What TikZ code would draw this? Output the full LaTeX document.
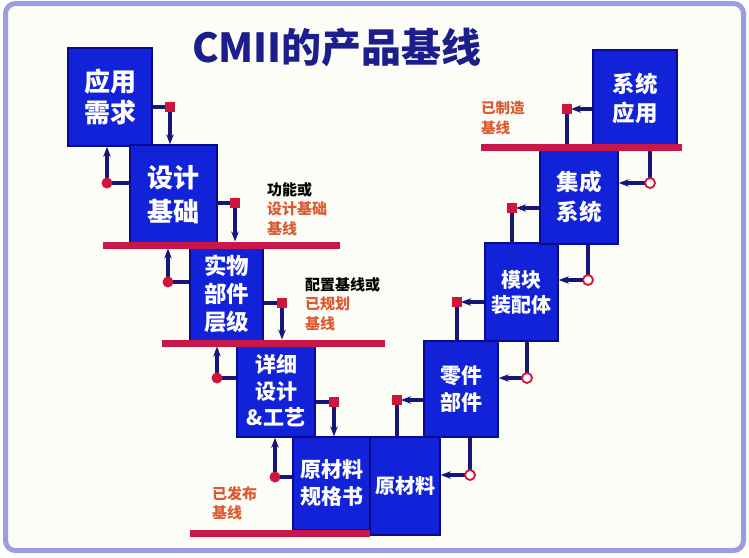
\documentclass[tikz,border=0pt]{standalone}
\usepackage{fontspec}
\newfontfamily\cjk{Noto Sans CJK SC}
\usetikzlibrary{arrows.meta}
\definecolor{boxblue}{HTML}{1222D8}
\definecolor{boxedge}{HTML}{0A0A8A}
\definecolor{conncol}{HTML}{16167A}
\definecolor{basered}{HTML}{C8184A}
\definecolor{framecol}{HTML}{9C9CE4}
\definecolor{bgcol}{HTML}{FDFDF8}
\definecolor{lblorange}{HTML}{DC5A32}
\definecolor{titlecol}{HTML}{1C1E8C}
\definecolor{markred}{HTML}{D0143C}
\newcommand{\bxf}[2]{\cjk\bfseries\fontsize{#1}{#2}\selectfont}
\begin{document}
\begin{tikzpicture}[x=1pt,y=-1pt,
 box/.style={draw=boxedge, line width=1.5pt, fill=boxblue, text=white, inner sep=0pt, align=center},
 conn/.style={draw=conncol, line width=3.6pt},
 arr/.style={conn, -{Stealth[length=10pt,width=7.5pt]}},
 sqm/.style={fill=markred, minimum size=10pt, inner sep=0pt, rectangle},
 fcm/.style={circle, fill=markred, minimum size=11pt, inner sep=0pt},
 ocm/.style={circle, draw=markred, fill=white, line width=1.8pt, minimum size=10pt, inner sep=0pt},
 bline/.style={draw=basered, line width=7pt},
 lbl/.style={font=\cjk\bfseries\fontsize{15}{19.5}\selectfont, align=left, anchor=west, inner sep=0pt},
]
\useasboundingbox (0,0) rectangle (749,557);
\draw[framecol, line width=5pt, fill=bgcol, rounded corners=10pt] (5.5,3.5) rectangle (743.5,550.5);

\node[font=\cjk\bfseries\fontsize{40}{44}\selectfont, text=titlecol] (title) at (337,47) {CMII的产品基线};

% boxes
\node[box, minimum width=84pt, minimum height=98pt, font=\bxf{26}{31}] (yyxq) at (110,97) {应用\\需求};
\node[box, minimum width=87pt, minimum height=100pt, font=\bxf{26}{34}] (sjjc) at (173.5,195) {设计\\基础};
\node[box, minimum width=73pt, minimum height=97pt, font=\bxf{22.5}{28}] (swbj) at (226.5,293.5) {实物\\部件\\层级};
\node[box, minimum width=78pt, minimum height=92pt, font=\bxf{21}{26.5}] (xxsj) at (276,391) {详细\\设计\\\&工艺};
\node[box, minimum width=77pt, minimum height=93pt, font=\bxf{21}{27}] (yclg) at (331.5,483.5) {原材料\\规格书};
\node[box, minimum width=70pt, minimum height=98pt, font=\bxf{20}{26}] (ycl) at (405,486) {原材料};
\node[box, minimum width=74pt, minimum height=96pt, font=\bxf{21}{27}] (ljbj) at (461,389) {零件\\部件};
\node[box, minimum width=73pt, minimum height=98pt, font=\bxf{20}{25}] (mkzp) at (521.5,292) {模块\\装配体};
\node[box, minimum width=78pt, minimum height=94pt, font=\bxf{22.5}{30}] (jcxt) at (579,197) {集成\\系统};
\node[box, minimum width=84pt, minimum height=97pt, font=\bxf{22.5}{29}] (xtyy) at (635,98.5) {系统\\应用};

% baselines
\coordinate (l0a) at (481,147); \coordinate (l0b) at (682,147);
\coordinate (l1a) at (103,245); \coordinate (l1b) at (340,245);
\coordinate (l2a) at (162,343); \coordinate (l2b) at (385,343);
\coordinate (l3a) at (190,533); \coordinate (l3b) at (370,533);
\draw[bline] (l0a) -- (l0b);
\draw[bline] (l1a) -- (l1b);
\draw[bline] (l2a) -- (l2b);
\draw[bline] (l3a) -- (l3b);

% left side connectors
\coordinate (p1) at (170,107);
\draw[conn] (yyxq.east |- p1) -- (p1);
\draw[arr] (p1) -- (p1 |- sjjc.north);
\coordinate (p2) at (107,183);
\draw[conn] (sjjc.west |- p2) -- (p2);
\draw[arr] (p2) -- (p2 |- yyxq.south);
\coordinate (p3) at (235,203);
\draw[conn] (sjjc.east |- p3) -- (p3);
\draw[arr, shorten >=3.5pt] (p3) -- (p3 |- l1a);
\coordinate (p4) at (168,282);
\draw[conn] (swbj.west |- p4) -- (p4);
\draw[arr, shorten >=3.5pt] (p4) -- (p4 |- l1a);
\coordinate (p5) at (282,303);
\draw[conn] (swbj.east |- p5) -- (p5);
\draw[arr, shorten >=3.5pt] (p5) -- (p5 |- l2a);
\coordinate (p6) at (217,378);
\draw[conn] (xxsj.west |- p6) -- (p6);
\draw[arr, shorten >=3.5pt] (p6) -- (p6 |- l2a);
\coordinate (p7) at (334,402);
\draw[conn] (xxsj.east |- p7) -- (p7);
\draw[arr] (p7) -- (p7 |- yclg.north);
\coordinate (p8) at (275,477);
\draw[conn] (yclg.west |- p8) -- (p8);
\draw[arr] (p8) -- (p8 |- xxsj.south);

% right side connectors
\coordinate (q1) at (397,400);
\draw[conn] (q1 |- ycl.north) -- (q1);
\draw[arr, shorten >=4pt] (ljbj.west |- q1) -- (q1);
\coordinate (q2) at (470,475);
\draw[conn] (q2) -- (q2 |- ljbj.south);
\draw[arr] (q2) -- (q2 -| ycl.east);
\coordinate (q3) at (457,302);
\draw[conn] (q3 |- ljbj.north) -- (q3);
\draw[arr, shorten >=4pt] (mkzp.west |- q3) -- (q3);
\coordinate (q4) at (527,378);
\draw[conn] (q4) -- (q4 |- mkzp.south);
\draw[arr] (q4) -- (q4 -| ljbj.east);
\coordinate (q5) at (512,208);
\draw[conn] (q5 |- mkzp.north) -- (q5);
\draw[arr, shorten >=4pt] (jcxt.west |- q5) -- (q5);
\coordinate (q6) at (588,280);
\draw[conn] (q6) -- (q6 |- jcxt.south);
\draw[arr] (q6) -- (q6 -| mkzp.east);
\coordinate (q7) at (567,109);
\draw[conn, shorten <=3.5pt] (q7 |- l0a) -- (q7);
\draw[arr, shorten >=4pt] (xtyy.west |- q7) -- (q7);
\coordinate (q8) at (650,183);
\draw[conn, shorten >=3.5pt] (q8) -- (q8 |- l0a);
\draw[arr] (q8) -- (q8 -| jcxt.east);

% markers
\node[sqm] (m1) at (p1) {};
\node[fcm] (m2) at (p2) {};
\node[sqm] (m3) at (p3) {};
\node[fcm] (m4) at (p4) {};
\node[sqm] (m5) at (p5) {};
\node[fcm] (m6) at (p6) {};
\node[sqm] (m7) at (p7) {};
\node[fcm] (m8) at (p8) {};
\node[sqm] (n1) at (q1) {};
\node[ocm] (n2) at (q2) {};
\node[sqm] (n3) at (q3) {};
\node[ocm] (n4) at (q4) {};
\node[sqm] (n5) at (q5) {};
\node[ocm] (n6) at (q6) {};
\node[sqm] (n7) at (q7) {};
\node[ocm] (n8) at (q8) {};

% labels
\node[lbl] (t1) at (267,209) {功能或\\\textcolor{lblorange}{设计基础}\\\textcolor{lblorange}{基线}};
\node[lbl] (t2) at (305,304) {配置基线或\\\textcolor{lblorange}{已规划}\\\textcolor{lblorange}{基线}};
\node[lbl, text=lblorange] (t3) at (212,503) {已发布\\基线};
\node[lbl, text=lblorange, font=\cjk\bfseries\fontsize{14.5}{19.5}\selectfont] (t4) at (481,118) {已制造\\基线};
\end{tikzpicture}
\end{document}
